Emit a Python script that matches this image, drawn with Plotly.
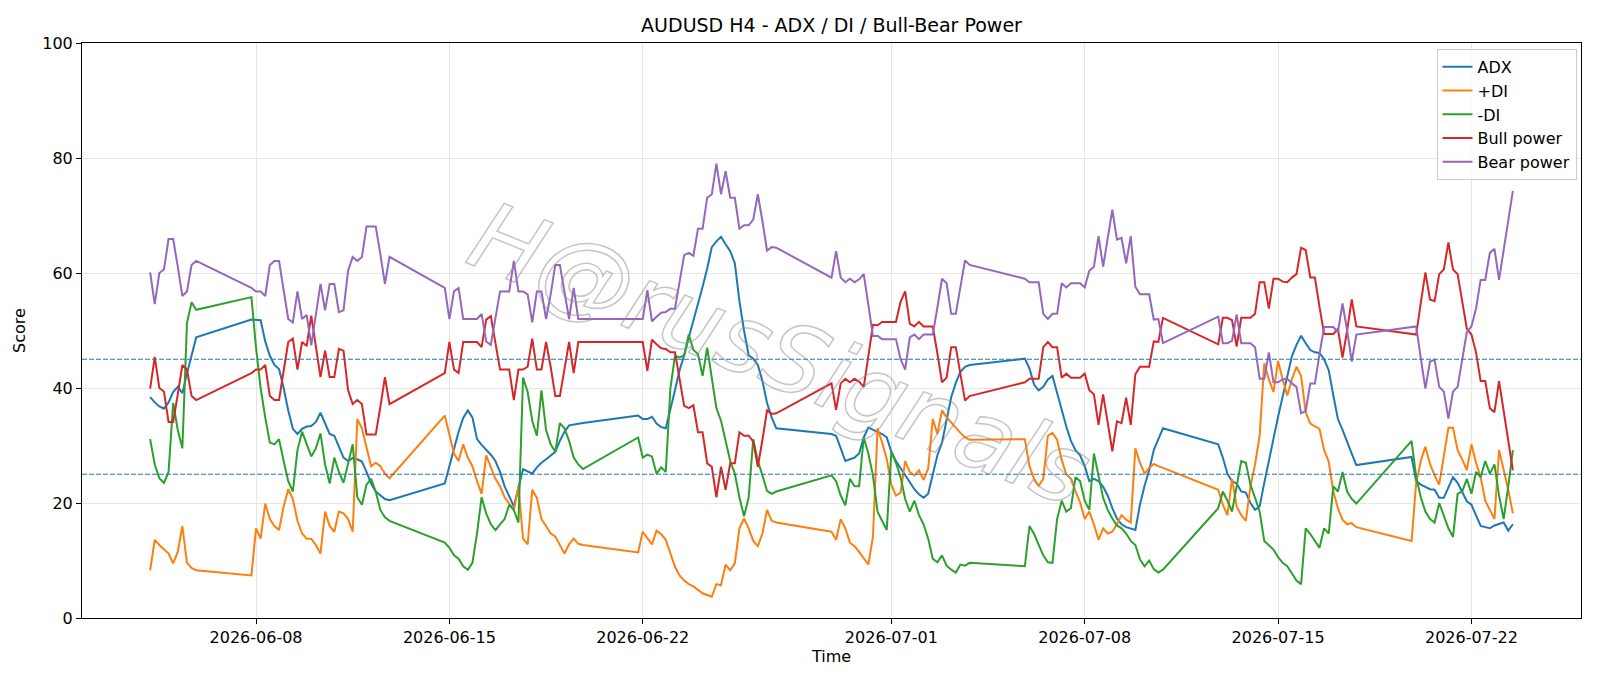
import pandas as pd
import plotly.graph_objects as go

TITLE = "AUDUSD H4 - ADX / DI / Bull-Bear Power"
WATERMARK = "H@rusSignals"

# Trading sessions (H4 bars, one value per bar in each series below)
SESSIONS = [
    ("2026-06-04 04:00", "2026-06-05 20:00"),
    ("2026-06-07 20:00", "2026-06-12 20:00"),
    ("2026-06-14 20:00", "2026-06-19 20:00"),
    ("2026-06-21 20:00", "2026-06-26 20:00"),
    ("2026-06-28 20:00", "2026-07-03 20:00"),
    ("2026-07-05 20:00", "2026-07-10 20:00"),
    ("2026-07-12 20:00", "2026-07-17 20:00"),
    ("2026-07-19 20:00", "2026-07-23 12:00"),
]

ADX = [
    38.4, 37.5, 36.8, 36.4, 37.5, 39.3, 40.2, 39.1, 42.5, 45.6, 48.8,
    51.9, 51.9, 51.8, 48.1, 45.6, 44.0, 43.3, 40.0, 36.1, 32.9, 32.0, 32.9, 33.3, 33.4, 34.1, 35.7,
    33.8, 32.0, 31.7, 29.8, 27.9, 27.3, 27.8, 27.6, 27.2, 25.4, 23.4, 22.0, 21.3, 20.7, 20.5,
    23.4, 26.4, 29.5, 32.4, 34.8, 36.1, 34.9, 31.1, 30.1, 29.3, 28.4, 27.3, 25.4, 22.9, 21.0, 19.4,
    22.6, 25.9, 25.5, 25.1, 26.2, 27.0, 27.6, 28.3, 28.9, 30.8, 32.4, 33.5, 33.6, 33.7, 33.9,
    35.2, 34.6, 34.6, 35.0, 33.8, 33.2, 33.0, 36.1, 39.6, 43.1, 45.7, 48.8, 51.6, 54.8, 57.6, 60.8,
    64.5, 65.5, 66.3, 65.0, 63.8, 61.7, 55.1, 50.0, 45.7, 45.1, 44.0, 41.2, 37.4, 34.9, 33.0,
    32.0, 31.7, 29.5, 27.3, 27.6, 27.9, 28.6, 31.4, 33.1, 32.7, 32.4, 32.0, 31.4, 28.9, 27.3, 26.1,
    24.8, 23.8, 22.4, 21.5, 20.9, 21.6, 24.8, 28.3, 30.5, 34.3, 38.4, 40.9, 42.8, 43.7, 44.0,
    45.1, 43.4, 40.6, 39.6, 40.2, 41.5, 42.1, 39.0, 36.1, 33.3, 30.8, 29.2, 28.3, 26.4, 23.8, 24.2,
    23.8, 22.8, 21.3, 19.1, 17.3, 16.3, 15.8, 15.6, 15.3, 19.7, 23.0, 25.7, 29.2, 31.1, 33.0,
    30.2, 27.9, 25.1, 23.8, 23.4, 22.0, 21.8, 20.0, 18.8, 19.4, 23.5, 27.5, 31.5, 35.0, 38.5, 42.0,
    45.5, 47.5, 49.1, 47.8, 46.6, 46.2, 46.1, 45.0, 43.1, 38.7, 34.6, 32.7, 30.5, 28.6, 26.6,
    28.0, 23.8, 23.2, 22.8, 22.4, 22.3, 20.9, 20.9, 22.6, 24.5, 23.5, 22.0, 20.3, 19.7, 17.9, 16.0,
    15.8, 15.6, 16.1, 16.3, 16.6, 15.2, 16.3,
]

PLUS_DI = [
    8.3, 13.6, 12.7, 11.9, 11.2, 9.5, 11.5, 16.0, 9.6, 8.7, 8.3,
    7.4, 15.6, 13.8, 19.9, 17.2, 16.0, 15.3, 19.4, 22.4, 20.7, 16.9, 14.7, 13.8, 13.8, 12.7, 11.2,
    18.5, 16.0, 15.0, 18.5, 18.2, 17.2, 15.0, 34.6, 33.0, 29.8, 26.4, 27.0, 26.4, 25.1, 24.3,
    35.2, 31.7, 28.6, 27.3, 30.2, 27.9, 26.4, 23.8, 21.6, 28.3, 26.1, 24.2, 22.9, 21.0, 19.9, 18.8,
    22.9, 13.8, 12.8, 22.3, 20.9, 17.2, 16.0, 14.7, 14.2, 12.8, 11.2, 12.8, 13.8, 12.9, 12.7,
    11.4, 15.0, 13.9, 12.8, 15.2, 14.6, 13.6, 11.2, 8.9, 7.4, 6.5, 5.9, 5.5, 4.9, 4.3, 4.0,
    3.7, 5.9, 5.7, 9.3, 8.3, 9.5, 15.6, 17.3, 15.6, 13.4, 12.5, 14.7, 18.8, 16.9, 16.6,
    15.0, 13.6, 17.2, 15.6, 13.1, 12.5, 11.5, 10.3, 9.3, 14.1, 33.0, 30.5, 27.6, 23.2, 21.3, 21.8,
    27.3, 25.4, 24.8, 25.7, 24.0, 26.0, 34.6, 32.0, 36.1, 34.9, 33.9, 33.1, 32.2, 31.4, 31.0,
    31.1, 26.4, 24.2, 23.0, 24.2, 31.7, 32.2, 31.0, 27.5, 25.0, 24.2, 22.0, 20.1, 17.2, 18.5, 16.3,
    13.6, 15.6, 14.7, 15.0, 16.3, 17.9, 17.1, 16.6, 29.5, 27.0, 25.1, 26.1, 26.8, 26.4, 26.1,
    22.3, 19.7, 17.9, 24.2, 19.4, 17.9, 16.9, 22.9, 26.7, 31.7, 44.3, 41.5, 39.3, 44.7, 41.5, 38.7,
    41.5, 43.7, 42.1, 35.8, 33.8, 33.3, 32.9, 29.2, 27.2, 22.0, 19.1, 17.1, 16.3, 16.5, 15.8,
    13.4, 23.5, 27.3, 29.8, 26.8, 24.8, 23.2, 28.3, 33.1, 33.1, 29.2, 27.6, 25.7, 30.2, 27.0, 24.5,
    20.4, 18.8, 17.2, 29.2, 25.7, 22.3, 18.2,
]

MINUS_DI = [
    31.1, 26.7, 24.3, 23.5, 25.4, 37.4, 32.7, 29.5, 51.3, 54.9, 53.6,
    55.8, 47.0, 40.0, 34.9, 30.5, 30.2, 31.1, 27.3, 23.8, 22.0, 29.2, 32.4, 30.1, 28.1, 29.5, 32.1,
    26.7, 23.4, 27.9, 25.4, 23.5, 26.7, 30.2, 21.0, 19.7, 23.2, 24.2, 22.0, 18.8, 17.5, 16.9,
    13.1, 12.2, 10.9, 10.3, 9.0, 8.4, 9.6, 14.7, 21.0, 18.2, 16.3, 15.3, 16.3, 17.2, 19.7, 18.8,
    16.6, 41.8, 39.3, 34.3, 31.7, 39.6, 32.7, 30.2, 28.9, 33.9, 33.0, 30.8, 27.9, 26.7, 25.9,
    31.4, 27.9, 28.4, 28.1, 25.1, 26.2, 25.4, 39.9, 45.6, 45.3, 45.7, 49.3, 46.6, 45.9, 42.1, 47.0,
    41.8, 36.5, 34.3, 30.5, 27.3, 25.1, 21.0, 17.7, 20.9, 31.1, 27.3, 24.8, 22.1, 21.6, 22.0,
    24.8, 23.8, 21.3, 19.6, 24.2, 22.9, 22.9, 31.4, 28.6, 24.8, 18.5, 16.9, 15.3, 28.9, 27.0, 24.5,
    20.7, 18.5, 20.4, 17.9, 16.3, 13.8, 10.3, 9.7, 10.9, 9.1, 8.4, 7.9, 9.3, 9.1, 9.6,
    9.0, 16.0, 14.6, 12.6, 10.9, 9.7, 9.6, 17.2, 20.4, 18.5, 19.1, 24.5, 23.8, 20.4, 18.8, 28.6,
    24.8, 20.9, 18.8, 17.3, 16.1, 15.6, 14.7, 13.4, 12.7, 10.2, 9.0, 10.0, 8.5, 7.9, 8.4,
    19.1, 22.0, 20.4, 18.5, 22.9, 27.3, 27.0, 23.2, 20.9, 18.5, 13.4, 12.7, 11.9, 10.6, 9.6, 9.0,
    7.8, 6.5, 5.9, 15.6, 14.6, 13.4, 12.2, 15.6, 14.7, 22.9, 22.0, 25.4, 22.0, 20.7, 19.9,
    30.8, 24.5, 21.0, 18.5, 17.2, 16.6, 20.0, 17.9, 15.6, 14.1, 21.6, 22.0, 24.2, 21.6, 25.4, 24.5,
    27.3, 25.1, 26.7, 21.3, 17.2, 22.9, 29.2,
]

BULL = [
    39.9, 45.4, 40.0, 39.4, 34.1, 34.1, 38.9, 44.0, 43.2, 38.6, 37.9,
    42.6, 43.2, 43.2, 44.0, 38.6, 37.9, 37.9, 43.0, 48.0, 48.6, 43.2, 48.0, 47.3, 52.6, 47.1, 41.9,
    46.5, 41.9, 41.9, 46.8, 46.5, 39.6, 37.2, 37.9, 37.2, 31.9, 31.9, 31.9, 36.7, 41.9, 37.2,
    42.6, 48.0, 43.2, 42.6, 48.0, 48.0, 48.0, 48.0, 47.1, 51.9, 52.5, 47.5, 43.2, 43.2, 43.2, 37.9,
    43.2, 43.2, 43.7, 48.6, 43.2, 43.2, 48.0, 43.7, 38.6, 38.6, 43.7, 48.0, 42.6, 48.0, 48.0,
    48.0, 48.0, 43.0, 48.4, 47.6, 46.9, 46.8, 46.2, 46.2, 41.5, 36.9, 36.5, 37.0, 32.3, 32.3, 26.9,
    26.3, 21.0, 26.3, 22.3, 26.9, 26.9, 32.3, 31.7, 31.7, 30.7, 26.3, 31.0, 36.1, 35.5, 35.6,
    40.8, 36.2, 40.8, 41.6, 41.0, 41.6, 41.1, 40.2, 45.5, 51.0, 50.9, 51.5, 51.5, 51.5, 51.5, 55.0,
    56.8, 51.2, 50.7, 51.5, 50.7, 50.7, 50.7, 46.0, 41.0, 41.8, 47.1, 47.1, 42.4, 37.8, 38.6,
    41.0, 41.6, 41.6, 41.6, 47.1, 48.0, 47.1, 47.1, 41.8, 42.5, 41.8, 41.8, 41.8, 42.5, 39.6, 38.9,
    33.6, 38.9, 33.9, 29.0, 34.2, 33.9, 38.3, 33.6, 42.4, 43.7, 43.7, 43.7, 48.1, 48.0, 52.2,
    47.6, 52.2, 52.2, 51.8, 47.2, 52.2, 52.2, 52.2, 52.9, 58.4, 58.4, 53.8, 59.0, 59.0, 58.5, 58.4,
    59.2, 59.8, 64.4, 64.0, 59.2, 59.2, 54.1, 49.4, 49.4, 49.4, 50.3, 45.3, 50.0, 55.4, 50.7,
    49.3, 49.3, 54.8, 60.1, 55.4, 55.1, 59.8, 60.6, 65.3, 60.6, 59.8, 55.1, 50.3, 49.3, 46.2, 41.2,
    41.2, 36.5, 35.8, 41.2, 36.1, 31.1, 25.7,
]

BEAR = [
    60.1, 54.6, 60.0, 60.6, 65.9, 65.9, 61.1, 56.0, 56.8, 61.4, 62.1,
    57.4, 56.8, 56.8, 56.0, 61.4, 62.1, 62.1, 57.0, 52.0, 51.4, 56.8, 52.0, 52.7, 47.4, 52.9, 58.1,
    53.5, 58.1, 58.1, 53.2, 53.5, 60.4, 62.8, 62.1, 62.8, 68.1, 68.1, 68.1, 63.3, 58.1, 62.8,
    57.4, 52.0, 56.8, 57.4, 52.0, 52.0, 52.0, 52.0, 52.9, 48.1, 47.5, 52.5, 56.8, 56.8, 56.8, 62.1,
    56.8, 56.8, 56.3, 51.4, 56.8, 56.8, 52.0, 56.3, 61.4, 61.4, 56.3, 52.0, 57.4, 52.0, 52.0,
    52.0, 52.0, 57.0, 51.6, 52.4, 53.1, 53.2, 53.8, 53.8, 58.5, 63.1, 63.5, 63.0, 67.7, 67.7, 73.1,
    73.7, 79.0, 73.7, 77.7, 73.1, 73.1, 67.7, 68.3, 68.3, 69.3, 73.7, 69.0, 63.9, 64.5, 64.4,
    59.2, 63.8, 59.2, 58.4, 59.0, 58.4, 58.9, 59.8, 54.5, 49.0, 49.1, 48.5, 48.5, 48.5, 48.5, 45.0,
    43.2, 48.8, 49.3, 48.5, 49.3, 49.3, 49.3, 54.0, 59.0, 58.2, 52.9, 52.9, 57.6, 62.2, 61.4,
    59.0, 58.4, 58.4, 58.4, 52.9, 52.0, 52.9, 52.9, 58.2, 57.5, 58.2, 58.2, 58.2, 57.5, 60.4, 61.1,
    66.4, 61.1, 66.1, 71.0, 65.8, 66.1, 61.7, 66.4, 57.6, 56.3, 56.3, 56.3, 51.9, 52.0, 47.8,
    52.4, 47.8, 47.8, 48.2, 52.8, 47.8, 47.8, 47.8, 47.1, 41.6, 41.6, 46.2, 41.0, 41.0, 41.5, 41.6,
    40.8, 40.2, 35.6, 36.0, 40.8, 40.8, 45.9, 50.6, 50.6, 50.6, 49.7, 54.7, 50.0, 44.6, 49.3,
    50.7, 50.7, 45.2, 39.9, 44.6, 44.9, 40.2, 39.4, 34.7, 39.4, 40.2, 44.9, 49.7, 50.7, 53.8, 58.8,
    58.8, 63.5, 64.2, 58.8, 63.9, 68.9, 74.3,
]

SERIES_NAMES = ["ADX", "+DI", "-DI", "Bull power", "Bear power"]
SERIES_COLORS = ["#1f77b4", "#ff7f0e", "#2ca02c", "#d62728", "#9467bd"]
THRESHOLDS = [45, 25]
Y_TICKS = [0, 20, 40, 60, 80, 100]
X_TICKS = ["2026-06-08", "2026-06-15", "2026-06-22", "2026-07-01",
           "2026-07-08", "2026-07-15", "2026-07-22"]

times = pd.DatetimeIndex(
    [t for s, e in SESSIONS for t in pd.date_range(s, e, freq="4h")]
)
series_values = [ADX, PLUS_DI, MINUS_DI, BULL, BEAR]
for name, vals in zip(SERIES_NAMES, series_values):
    if len(vals) != len(times):
        raise ValueError(f"{name}: {len(vals)} values for {len(times)} bars")

fig = go.Figure()
for name, vals, col in zip(SERIES_NAMES, series_values, SERIES_COLORS):
    fig.add_trace(go.Scatter(x=times, y=vals, mode="lines", name=name,
                             line=dict(color=col, width=2)))

for thr in THRESHOLDS:
    fig.add_shape(type="line", xref="paper", x0=0, x1=1, yref="y", y0=thr, y1=thr,
                  line=dict(color="#1f77b4", width=1.2, dash="5px,2px"), layer="above")

span = times.max() - times.min()
pad = span * 0.05
x_range = [times.min() - pad, times.max() + pad]

axis_style = dict(showline=True, linecolor="black", linewidth=1, mirror=True,
                  ticks="outside", ticklen=5, tickwidth=1, tickcolor="black",
                  showgrid=True, gridcolor="#e6e6e6", gridwidth=1, zeroline=False,
                  tickfont=dict(size=16, color="black"))

fig.update_layout(
    width=1600, height=686,
    margin=dict(l=82, r=19, t=43, b=68),
    paper_bgcolor="white", plot_bgcolor="white",
    font=dict(family="DejaVu Sans", size=16, color="black"),
    title=dict(text=TITLE, x=0.5, xref="paper", xanchor="center",
               y=1 - 25 / 686, yref="container", yanchor="middle",
               font=dict(size=19, color="black")),
    xaxis=dict(type="date", range=x_range, tickvals=X_TICKS, ticktext=X_TICKS,
               title=dict(text="Time", standoff=3, font=dict(size=16)), **axis_style),
    yaxis=dict(range=[0, 100], tickvals=Y_TICKS,
               title=dict(text="Score", standoff=12, font=dict(size=16)), **axis_style),
    legend=dict(x=0.997, y=0.99, xanchor="right", yanchor="top",
                bgcolor="rgba(255,255,255,0.8)", bordercolor="#cccccc", borderwidth=1,
                font=dict(size=16, color="black")),
    showlegend=True,
)

fig.add_annotation(text=WATERMARK, xref="paper", yref="paper", x=0.466, y=0.46,
                   showarrow=False, textangle=22, name="watermark",
                   font=dict(size=95, color="rgba(140,140,140,0.5)",
                             family="DejaVu Sans", style="italic"))

# render the watermark as outlined (hollow) glyphs
OUTLINE_JS = """
var gd = document.getElementsByClassName('plotly-graph-div')[0];
function outlineWatermark() {
  var texts = gd.querySelectorAll('.annotation-text');
  texts.forEach(function (t) {
    t.style.fill = 'none';
    t.style.stroke = 'rgba(140,140,140,0.5)';
    t.style.strokeWidth = '1.5px';
  });
}
outlineWatermark();
gd.on('plotly_afterplot', outlineWatermark);
"""

fig.write_html("out.html", post_script=OUTLINE_JS)
